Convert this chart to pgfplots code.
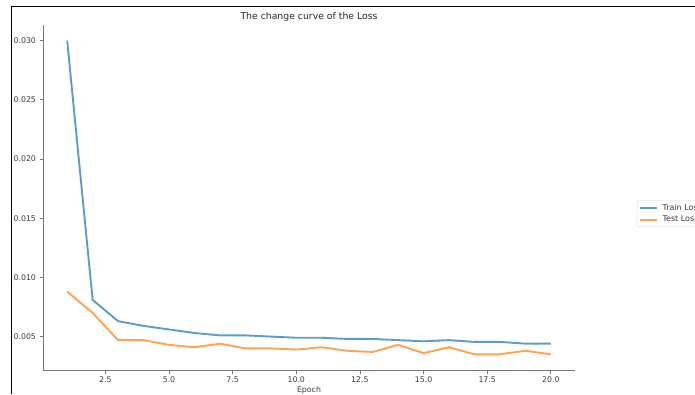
\documentclass[border=0pt]{standalone}
\usepackage{pgfplots}
\pgfplotsset{compat=1.18}
\usepackage{fontspec}
\setmainfont{DejaVu Sans}
\definecolor{tabblue}{RGB}{31,119,180}
\definecolor{taborange}{RGB}{255,127,14}
\definecolor{spine}{RGB}{120,120,120}
\definecolor{ticktext}{RGB}{60,60,60}
\begin{document}
\begin{tikzpicture}[x=1pt,y=1pt]
\path[use as bounding box] (0,0) rectangle (695,394);
\clip (0,0) rectangle (695,394);
\fill[white] (0,0) rectangle (695,394);
\draw[black, line width=1pt] (11,0) -- (11,387) -- (696,387);
\begin{axis}[
  at={(43pt,24pt)}, anchor=south west,
  scale only axis, width=532pt, height=345pt,
  xmin=0.05, xmax=20.95, ymin=0.002175, ymax=0.031325,
  axis x line*=bottom, axis y line*=left,
  axis line style={spine, line width=0.8pt},
  every tick/.style={spine, line width=0.8pt},
  tick align=outside, major tick length=3.5pt,
  xtick={2.5,5,7.5,10,12.5,15,17.5,20},
  ytick={0.005,0.010,0.015,0.020,0.025,0.030},
  scaled y ticks=false, scaled x ticks=false,
  xticklabel style={/pgf/number format/.cd, fixed, fixed zerofill, precision=1, assume math mode=true},
  yticklabel style={/pgf/number format/.cd, fixed, fixed zerofill, precision=3, assume math mode=true},
  ticklabel style={font=\fontsize{7.8}{9}\selectfont, text=ticktext},
  xlabel={Epoch},
  xlabel style={at={(axis description cs:0.5,0)}, anchor=north, yshift=-16pt, inner sep=0pt, font=\fontsize{7.8}{9}\selectfont, text=ticktext},
  title={The change curve of the Loss},
  title style={at={(axis description cs:0.5,1)}, anchor=base, yshift=-1pt, font=\fontsize{9.3}{11}\selectfont, text=black!85},
  legend style={at={(axis description cs:1.1165,0.492)}, anchor=north west, draw=black!15, rounded corners=1.5pt, font=\fontsize{8}{9}\selectfont, text=ticktext, inner sep=1.5pt, row sep=0.5pt, legend cell align=left},
  legend image code/.code={\draw[#1] (0pt,0pt) -- (17pt,0pt); \path (20pt,0pt);},
]
\addplot[tabblue, opacity=0.72, line width=1.9pt] coordinates {(1,0.0300) (2,0.0081) (3,0.0063) (4,0.0059) (5,0.0056) (6,0.0053) (7,0.0051) (8,0.0051) (9,0.0050) (10,0.0049) (11,0.0049) (12,0.0048) (13,0.0048) (14,0.0047) (15,0.0046) (16,0.0047) (17,0.00455) (18,0.00455) (19,0.0044) (20,0.0044)};
\addlegendentry{Train Loss}
\addplot[taborange, opacity=0.72, line width=1.9pt] coordinates {(1,0.0088) (2,0.0070) (3,0.0047) (4,0.0047) (5,0.0043) (6,0.0041) (7,0.0044) (8,0.0040) (9,0.0040) (10,0.0039) (11,0.0041) (12,0.0038) (13,0.0037) (14,0.0043) (15,0.0036) (16,0.0041) (17,0.0035) (18,0.0035) (19,0.0038) (20,0.0035)};
\addlegendentry{Test Loss}
\end{axis}
\end{tikzpicture}
\end{document}
